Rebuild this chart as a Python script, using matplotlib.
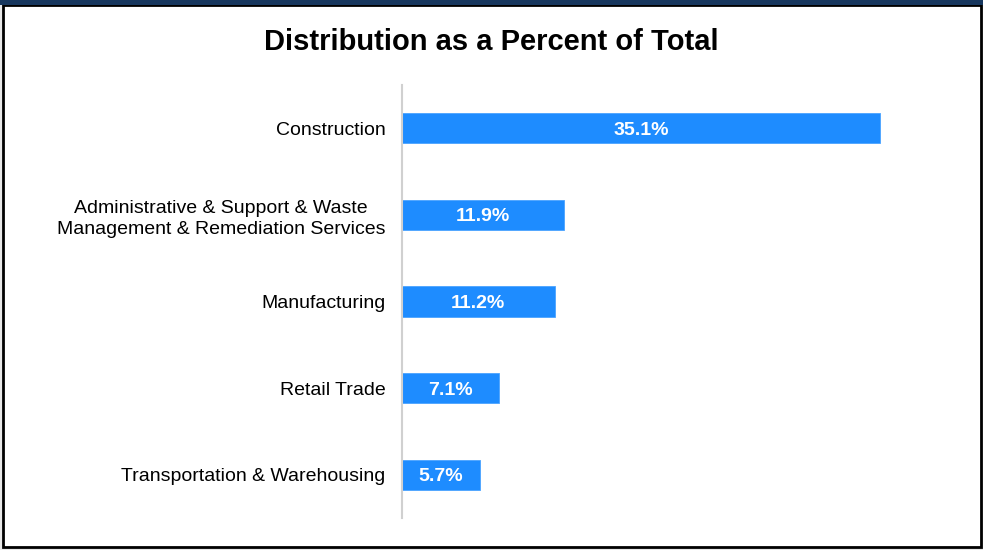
import matplotlib.pyplot as plt
from matplotlib.patches import Rectangle

plt.rcParams['font.family'] = ['Liberation Sans', 'DejaVu Sans']

# Data
categories = [
    'Construction',
    'Administrative & Support & Waste\nManagement & Remediation Services',
    'Manufacturing',
    'Retail Trade',
    'Transportation & Warehousing',
]
percents = [35.1, 11.9, 11.2, 7.1, 5.7]

W, H = 983, 550
fig = plt.figure(figsize=(W / 100, H / 100), dpi=100)
fig.patch.set_facecolor('#e8e8e8')

# white panel with a black frame and a navy strip on top
fig.patches.append(Rectangle((2.5 / W, 3 / H), 978 / W, 542 / H, transform=fig.transFigure,
                             facecolor='white', edgecolor='black', linewidth=2, zorder=0))
fig.patches.append(Rectangle((0, 1 - 5 / H), 1, 5 / H, transform=fig.transFigure,
                             facecolor='#17375e', edgecolor='none', zorder=1))

ax = fig.add_axes([402 / W, 32 / H, 545 / W, 433 / H])
ax.set_zorder(3)
ax.set_facecolor('none')
y = list(range(len(categories)))
bars = ax.barh(y, percents, height=0.35, color='#1e8cff', edgecolor='#4aa3ff', linewidth=0.6)
ax.set_ylim(len(categories) - 0.5, -0.5)
ax.set_xlim(0, 40)

for b, v in zip(bars, percents):
    ax.text(b.get_x() + b.get_width() / 2, b.get_y() + b.get_height() / 2, f'{v:.1f}%',
            ha='center', va='center_baseline', color='white', fontsize=14, fontweight='bold')

ax.set_yticks(y)
ax.set_yticklabels(categories, fontsize=14, ha='right', multialignment='center', linespacing=1.3)
ax.tick_params(axis='y', length=0, pad=19)
ax.set_xticks([])
for s in ['top', 'right', 'bottom']:
    ax.spines[s].set_visible(False)
ax.spines['left'].set_color('#d0d0d0')
ax.spines['left'].set_linewidth(1.5)
# tick labels end ~19 px left of the axis
for lbl in ax.get_yticklabels():
    lbl.set_x(0)
ax.tick_params(axis='y', pad=12)

fig.text(491 / W, 1 - 42 / H, 'Distribution as a Percent of Total', ha='center', va='center',
         fontsize=21, fontweight='bold', zorder=3)

fig.savefig('out.png', dpi=100)
